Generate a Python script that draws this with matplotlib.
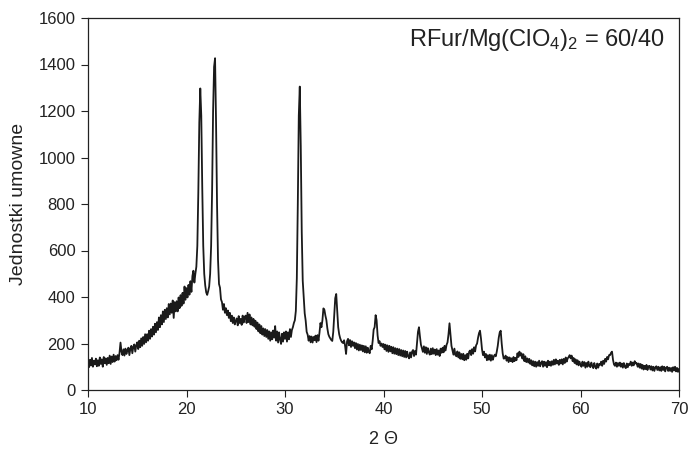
import numpy as np
import matplotlib
matplotlib.use("Agg")
import matplotlib.pyplot as plt

plt.rcParams['font.family'] = ['Liberation Sans', 'DejaVu Sans']
plt.rcParams['mathtext.fontset'] = 'custom'
plt.rcParams['mathtext.rm'] = 'Liberation Sans'
plt.rcParams['mathtext.it'] = 'Liberation Sans'

# 2-theta grid: 10.0 to 70.0 step 0.1
two_theta_start = 10.0
two_theta_step = 0.1

intensity = [
    # 10
    118, 98, 130, 105, 138, 100, 126, 110, 135, 102,
    # 11
    128, 104, 140, 112, 132, 100, 142, 115, 136, 108,
    # 12
    138, 115, 148, 112, 144, 120, 152, 122, 146, 128,
    # 13
    150, 130, 160, 204, 165, 150, 175, 148, 178, 155,
    # 14
    170, 182, 150, 178, 190, 158, 186, 196, 165, 192,
    # 15
    205, 176, 212, 184, 222, 190, 228, 198, 240, 205,
    # 16
    240, 212, 255, 220, 262, 230, 272, 238, 285, 248,
    # 17
    292, 258, 312, 270, 322, 282, 338, 292, 345, 305,
    # 18
    352, 312, 370, 325, 372, 332, 385, 310, 378, 338,
    # 19
    382, 338, 398, 352, 408, 362, 418, 372, 445, 388,
    # 20
    438, 398, 452, 410, 468, 422, 490, 513, 462, 500,
    # 21
    530, 620, 850, 1150, 1297, 1180, 870, 620, 500, 450,
    # 22
    420, 409, 425, 445, 500, 620, 860, 1200, 1390, 1427,
    # 23
    1150, 800, 560, 456, 440, 390, 378, 345, 370, 332,
    # 24
    352, 322, 342, 310, 332, 296, 320, 288, 312, 282,
    # 25
    298, 308, 278, 318, 288, 306, 280, 320, 290, 312,
    # 26
    320, 288, 332, 292, 325, 282, 312, 278, 306, 272,
    # 27
    298, 262, 290, 252, 282, 244, 275, 238, 265, 232,
    # 28
    262, 228, 258, 220, 252, 212, 248, 218, 256, 225,
    # 29
    275, 212, 252, 204, 248, 218, 198, 242, 208, 248,
    # 30
    220, 252, 208, 248, 218, 262, 228, 258, 270, 288,
    # 31
    300, 340, 480, 800, 1180, 1305, 1050, 680, 470, 398,
    # 32
    330, 298, 250, 238, 212, 232, 205, 230, 204, 228,
    # 33
    214, 234, 206, 236, 212, 246, 288, 270, 300, 351,
    # 34
    345, 320, 301, 265, 240, 229, 222, 215, 211, 250,
    # 35
    320, 395, 413, 340, 270, 240, 223, 212, 205, 202,
    # 36
    214, 190, 155, 210, 220, 192, 215, 185, 210, 190,
    # 37
    205, 180, 202, 174, 198, 170, 195, 172, 192, 166,
    # 38
    190, 162, 188, 160, 182, 165, 158, 190, 175, 211,
    # 39
    260, 270, 322, 300, 235, 202, 210, 190, 200, 185,
    # 40
    198, 175, 195, 168, 192, 164, 190, 166, 186, 158,
    # 41
    184, 156, 180, 154, 178, 150, 176, 148, 172, 145,
    # 42
    170, 142, 168, 140, 165, 145, 136, 162, 140, 165,
    # 43
    172, 146, 168, 152, 200, 250, 270, 230, 195, 180,
    # 44
    164, 188, 160, 184, 155, 180, 162, 152, 178, 154,
    # 45
    180, 156, 174, 150, 176, 152, 170, 146, 178, 160,
    # 46
    182, 162, 190, 170, 194, 205, 240, 287, 240, 190,
    # 47
    172, 152, 178, 150, 145, 166, 140, 162, 134, 155,
    # 48
    132, 156, 128, 150, 130, 156, 136, 165, 170, 150,
    # 49
    176, 156, 184, 166, 192, 200, 225, 245, 255, 220,
    # 50
    175, 150, 165, 140, 155, 128, 150, 130, 152, 126,
    # 51
    150, 130, 145, 152, 145, 165, 190, 225, 248, 255,
    # 52
    200, 158, 135, 136, 148, 126, 142, 120, 140, 124,
    # 53
    136, 120, 142, 124, 138, 128, 158, 142, 165, 148,
    # 54
    158, 135, 154, 124, 145, 120, 136, 118, 134, 112,
    # 55
    128, 106, 124, 102, 122, 100, 120, 104, 126, 102,
    # 56
    116, 124, 100, 122, 104, 120, 98, 126, 106, 122,
    # 57
    104, 124, 108, 130, 110, 132, 114, 126, 108, 130,
    # 58
    114, 132, 110, 134, 116, 140, 122, 136, 142, 150,
    # 59
    136, 148, 124, 138, 116, 132, 110, 128, 106, 122,
    # 60
    108, 100, 122, 104, 120, 96, 116, 100, 122, 104,
    # 61
    98, 118, 104, 94, 116, 100, 92, 114, 96, 112,
    # 62
    108, 122, 104, 126, 112, 134, 122, 142, 132, 150,
    # 63
    150, 160, 165, 130, 110, 104, 118, 100, 116, 104,
    # 64
    118, 100, 114, 96, 116, 100, 94, 114, 98, 112,
    # 65
    108, 122, 104, 118, 106, 124, 114, 116, 100, 114,
    # 66
    96, 112, 92, 108, 88, 104, 90, 108, 86, 102,
    # 67
    104, 88, 102, 84, 100, 82, 98, 102, 86, 100,
    # 68
    84, 98, 82, 102, 86, 100, 80, 96, 100, 82,
    # 69
    96, 82, 95, 78, 98, 84, 100, 80, 95, 78,
    # 70
    90,
]

x_ticks = [10, 20, 30, 40, 50, 60, 70]
y_ticks = [0, 200, 400, 600, 800, 1000, 1200, 1400, 1600]
x_label = "2 \u0398"
y_label = "Jednostki umowne"
annotation = r"RFur/Mg(ClO$_{4}$)$_{2}$ = 60/40"

two_theta = two_theta_start + two_theta_step * np.arange(len(intensity))

fig = plt.figure(figsize=(6.91, 4.51), dpi=100)
ax = fig.add_axes([88/691, 61/451, (679-88)/691, (390-18)/451])

ax.plot(two_theta, intensity, color="#1a1a1a", lw=1.3)

ax.set_xlim(10, 70)
ax.set_ylim(0, 1600)
ax.set_xticks(x_ticks)
ax.set_yticks(y_ticks)
ax.tick_params(direction="out", length=5, width=0.8, labelsize=12,
               colors="#222222", pad=4)
for s in ax.spines.values():
    s.set_linewidth(0.9)
    s.set_color("#222222")

ax.set_xlabel(x_label, fontsize=13, labelpad=10, color="#222222")
ax.set_ylabel(y_label, fontsize=14, labelpad=8, color="#222222")

ax.text(0.976, 0.976, annotation, transform=ax.transAxes, ha="right", va="top",
        fontsize=17, color="#222222")

fig.savefig("out.png", dpi=100)
